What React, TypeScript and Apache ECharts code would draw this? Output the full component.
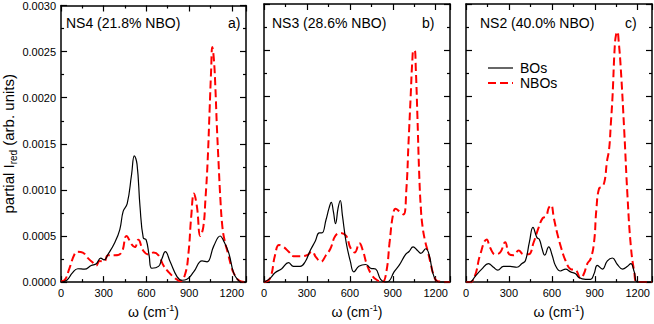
import React, { useEffect, useRef } from "react";
import * as echarts from "echarts";

// ---- data (omega in cm^-1, partial I_red in arb. units) ----
const ns4BoW = [0,40,80,118,165,212,248,279,302,330,378,413,437,465,496,515,534,555,578,598,619,638,685,708,733,767,815,850,885,932,991,1026,1073,1119,1142,1178,1213,1240,1265,1300];
const ns4BoI = [0,0.00002,0.0001,0.000145,0.00014,0.00018,0.0002,0.00026,0.00024,0.0003,0.00043,0.00057,0.00077,0.00085,0.00117,0.00137,0.00128,0.00082,0.00048,0.00046,0.00029,0.00015,0.00017,0.00025,0.00033,0.00022,0.00006,0.00002,0.00003,0.00011,0.00023,0.00022,0.00039,0.0005,0.00045,0.00032,0.0001,0.00003,0,0];
const ns4NboW = [0,24,59,94,118,153,189,224,248,271,302,330,378,425,460,496,519,543,578,614,650,685,720,755,803,838,873,896,915,934,955,979,1000,1015,1030,1045,1055,1063,1075,1085,1095,1107,1120,1134,1150,1175,1195,1213,1249,1300];
const ns4NboI = [0.00001,0.00002,0.00015,0.0003,0.00033,0.00032,0.00026,0.00021,0.00018,0.00023,0.00022,0.00029,0.00029,0.00032,0.0005,0.00041,0.00038,0.00046,0.00034,0.0003,0.00032,0.00029,0.00018,0.00011,0.00004,0.00001,0.00009,0.00032,0.00071,0.00096,0.00082,0.0005,0.0006,0.0009,0.0013,0.0019,0.0023,0.00255,0.0024,0.0021,0.0017,0.0013,0.0009,0.0006,0.00045,0.0003,0.00018,0.0001,0.00002,0];

const ns3BoW = [0,42,77,124,171,206,253,288,323,358,386,405,433,455,470,485,500,518,533,548,574,604,628,663,710,745,780,815,850,874,909,944,990,1014,1042,1073,1096,1131,1155,1178,1201,1225,1300];
const ns3BoI = [0,0.00004,0.0001,0.000145,0.00021,0.00017,0.00017,0.00022,0.00034,0.00044,0.00053,0.00053,0.00067,0.0008,0.00086,0.00076,0.00063,0.0008,0.00088,0.00072,0.00043,0.00022,0.00011,0.00017,0.00019,0.00015,0.00014,0.00003,0,0.00001,0.00011,0.00018,0.0003,0.00033,0.00038,0.00034,0.00031,0.00036,0.00029,0.00011,0.00002,0,0];
const ns3NboW = [0,42,77,105,136,171,206,253,300,335,363,398,433,464,499,534,574,604,634,667,691,721,756,792,827,855,878,902,920,948,975,995,1010,1025,1037,1045,1053,1061,1072,1084,1096,1108,1125,1145,1165,1185,1213,1300];
const ns3NboI = [0,0.00004,0.00029,0.0004,0.00038,0.00033,0.00028,0.00028,0.00029,0.00033,0.00027,0.00022,0.00029,0.00036,0.0005,0.00053,0.0005,0.00037,0.00032,0.00042,0.00034,0.00018,0.00007,0.00002,0,0.00011,0.00043,0.00073,0.00079,0.00076,0.00073,0.001,0.0015,0.002,0.0024,0.0025,0.0025,0.0023,0.0018,0.0012,0.0008,0.0006,0.00045,0.00033,0.0002,0.00008,0.00001,0];

const ns2BoW = [0,28,63,110,157,192,222,262,309,356,391,415,443,468,496,513,532,550,578,602,625,660,696,731,766,789,836,871,895,918,953,988,1023,1058,1094,1129,1152,1176,1199,1300];
const ns2BoI = [0,0,0.00006,0.00014,0.0002,0.00016,0.00013,0.00017,0.00017,0.00016,0.0002,0.00023,0.00043,0.00059,0.00048,0.00046,0.00036,0.00029,0.00038,0.00029,0.00018,0.00012,0.00014,0.00011,0.00009,0.00005,0.00003,0.00003,0.00009,0.00018,0.00014,0.00023,0.00026,0.00019,0.00014,0.00017,0.0002,0.00011,0,0];
const ns2NboW = [0,28,63,98,145,169,204,239,274,302,333,368,403,438,473,508,536,560,578,595,614,637,667,696,731,766,801,824,848,871,895,911,930,953,970,985,1000,1012,1024,1040,1050,1058,1067,1082,1106,1129,1152,1176,1195,1300];
const ns2NboI = [0,0,0.00007,0.00029,0.00046,0.00037,0.0003,0.00032,0.00043,0.0003,0.00029,0.00034,0.0003,0.0003,0.00043,0.00059,0.00069,0.00071,0.0008,0.00083,0.00069,0.00053,0.00036,0.00023,0.00014,0.00013,0.00004,0.00009,0.0002,0.00025,0.00043,0.00078,0.00101,0.00103,0.0011,0.0013,0.00143,0.0017,0.002,0.00255,0.00268,0.0027,0.0026,0.0023,0.00163,0.00092,0.00039,0.00011,0,0];

const panelNames = ["NS4 (21.8% NBO)", "NS3 (28.6% NBO)", "NS2 (40.0% NBO)"];
const panelTags = ["a)", "b)", "c)"];
const seriesNames = ["BOs", "NBOs"];
const xTickStep = 300;
const yTickStep = 0.0005;

const FONT = '"Liberation Sans", Arial, Helvetica, sans-serif';
const RED = "#ff0000";
const DASH = [8, 4];

const zip = (w: number[], v: number[]) => w.map((x, i) => [x, v[i]]);

export default function App() {
  const ref = useRef<HTMLDivElement>(null);
  useEffect(() => {
    if (!ref.current) return;
    const chart = echarts.init(ref.current, null, { renderer: "svg" });
    const lefts = [60, 264, 466];
    const width = 186;
    const top = 4;
    const height = 283;
    const panels = [
      [zip(ns4BoW, ns4BoI), zip(ns4NboW, ns4NboI)],
      [zip(ns3BoW, ns3BoI), zip(ns3NboW, ns3NboI)],
      [zip(ns2BoW, ns2BoI), zip(ns2NboW, ns2NboI)],
    ];
    const axisLine = { show: true, onZero: false, lineStyle: { color: "#000", width: 1.5 } };
    const axisTick = { show: true, inside: true, length: 6, lineStyle: { color: "#000", width: 1.2 } };
    const minorTick = { show: true, splitNumber: 2, length: 3, lineStyle: { color: "#000", width: 1.2 } };
    const grids: any[] = [];
    const xAxes: any[] = [];
    const yAxes: any[] = [];
    const series: any[] = [];
    const graphics: any[] = [];
    panels.forEach((p, i) => {
      grids.push({ left: lefts[i], top, width, height });
      const xBase = {
        type: "value", gridIndex: i, min: 0, max: 1300, interval: xTickStep,
        axisLine, axisTick, minorTick, splitLine: { show: false },
      };
      xAxes.push({
        ...xBase, position: "bottom",
        axisLabel: {
          show: true, showMaxLabel: false, fontSize: 11, color: "#000", fontFamily: FONT, margin: 5,
          formatter: (v: number) => String(v),
        },
        name: "{m|ω (cm}{sup|-1}{m|)}",
        nameLocation: "middle",
        nameGap: 18,
        nameTextStyle: {
          fontFamily: FONT, color: "#000",
          rich: {
            m: { fontSize: 14, lineHeight: 18, fontFamily: FONT, color: "#000" },
            sup: { fontSize: 9, lineHeight: 10, verticalAlign: "top", fontFamily: FONT, color: "#000" },
          },
        },
      });
      xAxes.push({ ...xBase, position: "top", axisLabel: { show: false } });
      const yBase = {
        type: "value", gridIndex: i, min: 0, max: 0.003, interval: yTickStep,
        axisLine, axisTick, minorTick, splitLine: { show: false },
      };
      yAxes.push({
        ...yBase, position: "left",
        axisLabel: {
          show: i === 0, fontSize: 11, color: "#000", fontFamily: FONT, margin: 5,
          formatter: (v: number) => v.toFixed(4),
        },
        ...(i === 0
          ? {
              name: "{m|partial I}{sub|red}{m| (arb. units)}",
              nameLocation: "middle",
              nameGap: 41,
              nameRotate: 90,
              nameTextStyle: {
                fontFamily: FONT, color: "#000",
                rich: {
                  m: { fontSize: 15, lineHeight: 20, fontFamily: FONT, color: "#000" },
                  sub: { fontSize: 10, lineHeight: 12, verticalAlign: "bottom", fontFamily: FONT, color: "#000" },
                },
              },
            }
          : {}),
      });
      yAxes.push({ ...yBase, position: "right", axisLabel: { show: false } });
      series.push({
        name: seriesNames[0], type: "line", xAxisIndex: 2 * i, yAxisIndex: 2 * i,
        data: p[0], symbol: "none", showSymbol: false, smooth: 0.45,
        lineStyle: { color: "#000", width: 1.2 }, itemStyle: { color: "#000" }, z: 3,
      });
      series.push({
        name: seriesNames[1], type: "line", xAxisIndex: 2 * i, yAxisIndex: 2 * i,
        data: p[1], symbol: "none", showSymbol: false, smooth: 0.45,
        lineStyle: { color: RED, width: 2, type: DASH }, itemStyle: { color: RED }, z: 2,
      });
    });
    const nameX = [66, 272, 480];
    const tagX = [228, 422, 625];
    panelNames.forEach((n, i) => {
      graphics.push({
        type: "text", x: nameX[i], y: 23,
        style: { text: n, font: `14px ${FONT}`, fill: "#000", verticalAlign: "middle", align: "left" },
      });
      graphics.push({
        type: "text", x: tagX[i], y: 23,
        style: { text: panelTags[i], font: `14px ${FONT}`, fill: "#000", verticalAlign: "middle", align: "left" },
      });
    });
    // legend drawn inside panel c
    const legendY = [68, 83];
    seriesNames.forEach((n, k) => {
      graphics.push({
        type: "line",
        shape: { x1: 488, y1: legendY[k], x2: 513, y2: legendY[k] },
        style: k === 0
          ? { stroke: "#000", lineWidth: 1.2 }
          : { stroke: RED, lineWidth: 2, lineDash: DASH },
      });
      graphics.push({
        type: "text", x: 520, y: legendY[k],
        style: { text: n, font: `14px ${FONT}`, fill: "#000", verticalAlign: "middle", align: "left" },
      });
    });
    chart.setOption({
      animation: false,
      backgroundColor: "#fff",
      textStyle: { fontFamily: FONT },
      grid: grids,
      xAxis: xAxes,
      yAxis: yAxes,
      series,
      graphic: graphics,
    });
    return () => chart.dispose();
  }, []);
  return <div ref={ref} style={{ width: 654, height: 324, position: "absolute", left: 0, top: 0 }} />;
}
